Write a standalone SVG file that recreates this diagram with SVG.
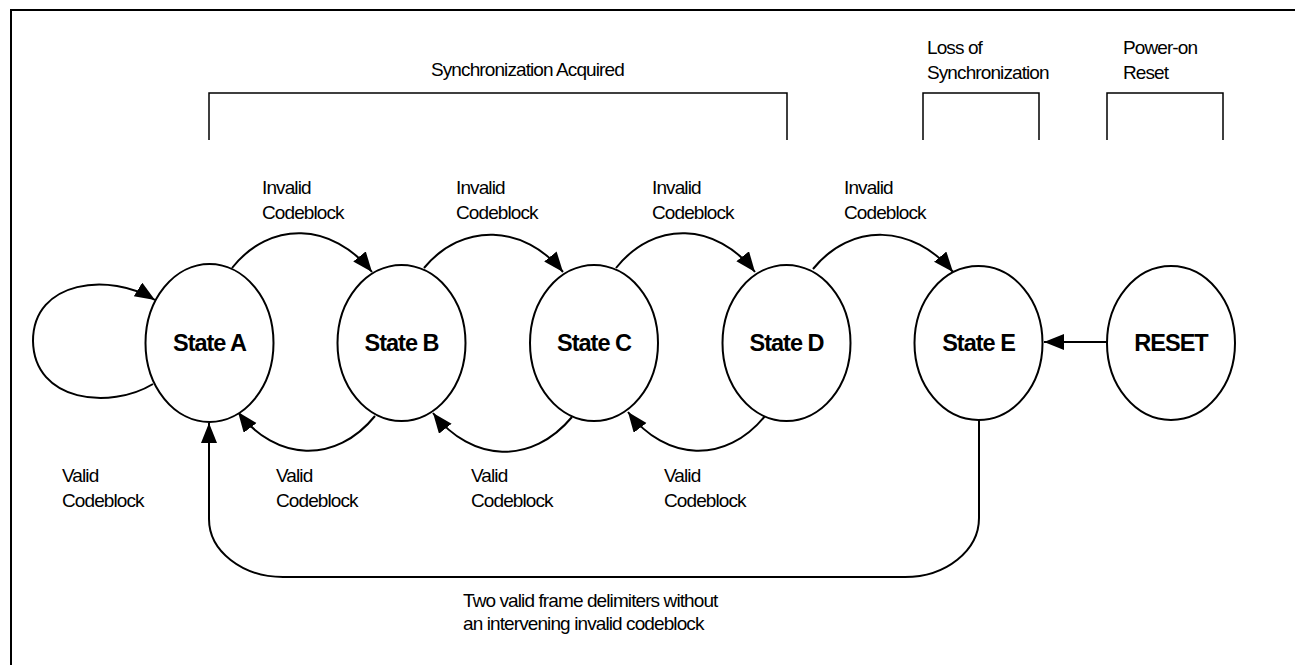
<svg xmlns="http://www.w3.org/2000/svg" width="1295" height="665" viewBox="0 0 1295 665">
<style>
.st{fill:#fff;stroke:#000;stroke-width:2}
.nl{font-family:"Liberation Sans",Arial,sans-serif;font-weight:bold;font-size:23.5px;letter-spacing:-1px;text-anchor:middle;fill:#000}
.lb{font-family:"Liberation Sans",Arial,sans-serif;font-size:19px;letter-spacing:-0.9px;fill:#000}
.cn{fill:none;stroke:#000;stroke-width:2}
.br{fill:none;stroke:#000;stroke-width:1.5}
</style>
<defs>
<marker id="ah" markerUnits="userSpaceOnUse" markerWidth="22" markerHeight="18" refX="20" refY="8" orient="auto">
<path d="M0,0 L20,8 L0,16 z" fill="#000"/>
</marker>
</defs>
<rect width="1295" height="665" fill="#fff"/>
<g id="frame">
<path d="M11,665 L11,10 L1295,10" fill="none" stroke="#000" stroke-width="2"/>
</g>
<g id="brackets">
<path class="br" d="M209,140 L209,93 L787,93 L787,140"/>
<path class="br" d="M923,140 L923,93 L1039,93 L1039,140"/>
<path class="br" d="M1107,140 L1107,93 L1223,93 L1223,140"/>
<text class="lb" x="431" y="76">Synchronization Acquired</text>
<text class="lb" x="927" y="54">Loss of</text>
<text class="lb" x="927" y="79">Synchronization</text>
<text class="lb" x="1123" y="54">Power-on</text>
<text class="lb" x="1123" y="79">Reset</text>
</g>
<g id="connectors">
<path class="cn" marker-end="url(#ah)" d="M153,384 C110,410 34,402 33,341 C33,280 110,272 155,300"/>
<path class="cn" marker-end="url(#ah)" d="M232,268 C270,220 332,222 372,272"/>
<path class="cn" marker-end="url(#ah)" d="M424,268 C462,222 524,224 563,272"/>
<path class="cn" marker-end="url(#ah)" d="M616,268 C654,220 716,222 755,272"/>
<path class="cn" marker-end="url(#ah)" d="M813,269 C851,222 913,224 953,272"/>
<path class="cn" marker-end="url(#ah)" d="M375,416 C336,464 276,462 238,412"/>
<path class="cn" marker-end="url(#ah)" d="M572,417 C532,465 472,463 433,413"/>
<path class="cn" marker-end="url(#ah)" d="M765,416 C726,464 666,462 628,412"/>
<path class="cn" marker-end="url(#ah)" d="M1107,342 L1044,342"/>
<path class="cn" marker-end="url(#ah)" d="M979,420 L979,518 A74,59 0 0 1 905,577 L283,577 A74,58 0 0 1 209,519 L209,423"/>
<text class="lb" x="262" y="194">Invalid</text>
<text class="lb" x="262" y="219">Codeblock</text>
<text class="lb" x="456" y="194">Invalid</text>
<text class="lb" x="456" y="219">Codeblock</text>
<text class="lb" x="652" y="194">Invalid</text>
<text class="lb" x="652" y="219">Codeblock</text>
<text class="lb" x="844" y="194">Invalid</text>
<text class="lb" x="844" y="219">Codeblock</text>
<text class="lb" x="62" y="482">Valid</text>
<text class="lb" x="62" y="507">Codeblock</text>
<text class="lb" x="276" y="482">Valid</text>
<text class="lb" x="276" y="507">Codeblock</text>
<text class="lb" x="471" y="482">Valid</text>
<text class="lb" x="471" y="507">Codeblock</text>
<text class="lb" x="664" y="482">Valid</text>
<text class="lb" x="664" y="507">Codeblock</text>
<text class="lb" x="463" y="607">Two valid frame delimiters without</text>
<text class="lb" x="463" y="630">an intervening invalid codeblock</text>
</g>
<g id="stateA"><ellipse class="st" cx="209.5" cy="343" rx="64" ry="79"/><text class="nl" x="209.5" y="351">State A</text></g>
<g id="stateB"><ellipse class="st" cx="401.5" cy="343" rx="64" ry="78"/><text class="nl" x="401.5" y="351">State B</text></g>
<g id="stateC"><ellipse class="st" cx="594" cy="343" rx="64" ry="78"/><text class="nl" x="594" y="351">State C</text></g>
<g id="stateD"><ellipse class="st" cx="786.5" cy="343" rx="64" ry="78"/><text class="nl" x="786.5" y="351">State D</text></g>
<g id="stateE"><ellipse class="st" cx="978.5" cy="343" rx="64" ry="77"/><text class="nl" x="978.5" y="351">State E</text></g>
<g id="reset"><ellipse class="st" cx="1171" cy="343" rx="64" ry="77"/><text class="nl" x="1171" y="351">RESET</text></g>
</svg>
